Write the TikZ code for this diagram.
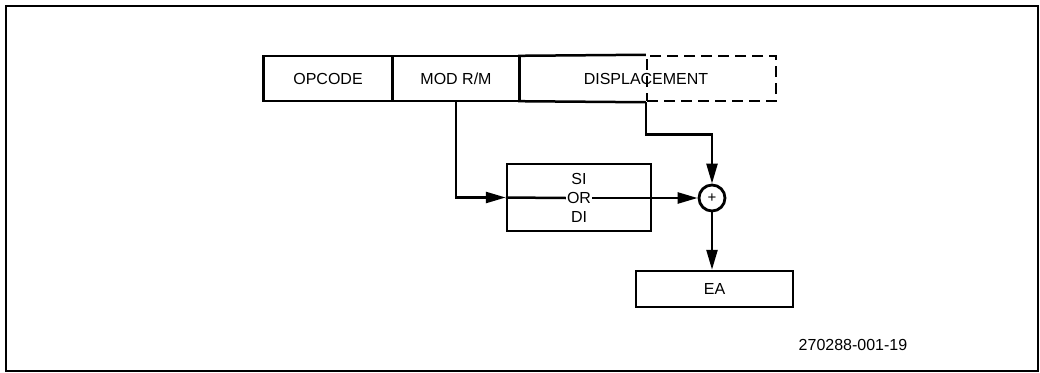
\documentclass[tikz,border=0pt]{standalone}
\usepackage{fontspec}
\setmainfont{Liberation Sans}
\usetikzlibrary{arrows.meta}
\begin{document}
\begin{tikzpicture}[x=1pt,y=-1pt,
  every node/.style={font=\fontsize{16}{18}\selectfont},
  box/.style={draw, line width=2.5pt, rectangle, inner sep=0pt},
  txt/.style={inner sep=1pt},
  conn/.style={line width=2.5pt},
  arr/.style={conn, -{Triangle[length=20pt,width=11pt]}},
  dashbox/.style={draw, line width=2.5pt, dash pattern=on 11pt off 6pt, rectangle, inner sep=0pt}]
\useasboundingbox (0,0) rectangle (1040,372);
\draw[line width=2.5pt] (6,6) rectangle (1038,371);
% top row
\node[box, minimum width=129.5pt, minimum height=45pt] (opcode) at (328,78.5) {OPCODE};
\node[box, minimum width=127pt, minimum height=45pt] (modrm) at (456,78.5) {MOD R/M};
\node[inner sep=0pt, minimum width=127.5pt, minimum height=45pt] (dispa) at (583.25,78.5) {};
\node[dashbox, minimum width=129pt, minimum height=45pt] (dispb) at (711.5,78.5) {};
\draw[line width=2.5pt] (dispb.north west) -- (dispa.north west) -- (dispa.south west) -- (dispb.south west);
\node[txt] (disptxt) at (646,78.5) {DISPLACEMENT};
% SI OR DI
\node[box, minimum width=144pt, minimum height=67pt] (sidi) at (579,197.5) {};
\node[txt] (si) at (579,179) {SI};
\node[txt] (or) at (579,198) {OR};
\node[txt] (di) at (579,217) {DI};
% adder
\node[draw, circle, line width=2.8pt, minimum size=26pt, inner sep=0pt, font=\fontsize{15}{16}\selectfont] (plus) at (712,198) {+};
% EA
\node[box, minimum width=157pt, minimum height=36pt] (ea) at (714.5,289) {EA};
% label
\node[txt] (lbl) at (853,345) {270288-001-19};
% connectors
\draw[arr] (modrm.south) |- (sidi.west);
\draw[conn] (sidi.west) -- (or.west);
\draw[arr] (or.east) -- (plus.west);
\draw[arr] (dispb.south west) -- ++(0,32) -| (plus.north);
\draw[arr] (plus.south) -- (plus.south |- ea.north);
\end{tikzpicture}
\end{document}
